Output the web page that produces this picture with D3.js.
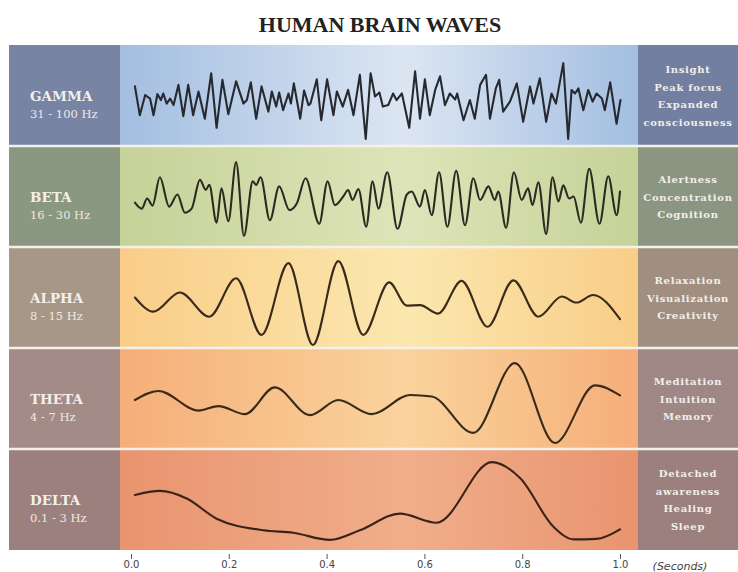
<!DOCTYPE html>
<html><head><meta charset="utf-8">
<script src="https://cdn.jsdelivr.net/npm/d3@7"></script>
<style>body{margin:0;background:#fff}svg{display:block}</style>
</head><body>
<svg id="c" width="738" height="572"></svg>
<script>
// ---- data ----
const title = "HUMAN BRAIN WAVES";
const bandNames = ["GAMMA","BETA","ALPHA","THETA","DELTA"];
const bandRanges = ["31 - 100 Hz","16 - 30 Hz","8 - 15 Hz","4 - 7 Hz","0.1 - 3 Hz"];
const bandStates = [
  ["Insight","Peak focus","Expanded","consciousness"],
  ["Alertness","Concentration","Cognition"],
  ["Relaxation","Visualization","Creativity"],
  ["Meditation","Intuition","Memory"],
  ["Detached","awareness","Healing","Sleep"]
];
const xTicks = [0.0,0.2,0.4,0.6,0.8,1.0];
const xUnit = "(Seconds)";

// time (s), amplitude pairs
const gammaT = [0.008,0.018,0.029,0.039,0.046,0.054,0.061,0.066,0.073,0.080,0.087,0.097,0.107,0.117,0.127,0.138,0.151,0.164,0.175,0.187,0.199,0.215,0.230,0.237,0.245,0.256,0.267,0.281,0.288,0.297,0.303,0.311,0.322,0.327,0.333,0.346,0.354,0.363,0.367,0.380,0.389,0.401,0.414,0.421,0.433,0.444,0.455,0.468,0.480,0.490,0.499,0.508,0.515,0.526,0.536,0.543,0.554,0.569,0.581,0.591,0.601,0.611,0.622,0.632,0.642,0.652,0.663,0.667,0.680,0.693,0.703,0.714,0.726,0.734,0.746,0.753,0.761,0.775,0.789,0.802,0.816,0.823,0.836,0.849,0.860,0.869,0.884,0.894,0.901,0.908,0.915,0.925,0.935,0.944,0.952,0.963,0.969,0.980,0.993,1.001];
const gammaV = [9,-19.5,0.5,-3,-19.5,1.5,-4.5,2,-8,-3,-9.5,10.5,-20.5,10.5,-19.5,4,-23,22,-32,15.5,-18.5,14,-8,-4.5,13,-23,9,-16,4,-11,3,-14.5,2,-8,12,-23,5,-9.5,-8,16,-24.5,16,-19.5,4,-11,5.5,-19.5,20.5,-43,22,-1,3,-11,-9.5,2,-4.5,2,-32,24,-23,16,-19.5,5.5,19,-9.5,2,-4,2,-24.5,-4.5,-23,10.5,20.5,-23,7,15.5,-16,-6,12,-26,9,-8,17,-26,2,-8,32,-43,5.5,2,7,-14.5,5.5,-6,2,-3,-14.5,13,-28,-4.5];

const betaT = [0.008,0.022,0.033,0.044,0.059,0.078,0.095,0.110,0.124,0.141,0.153,0.160,0.175,0.185,0.199,0.215,0.231,0.249,0.256,0.265,0.284,0.303,0.324,0.339,0.357,0.385,0.402,0.417,0.434,0.444,0.453,0.465,0.481,0.494,0.506,0.524,0.545,0.564,0.574,0.591,0.601,0.615,0.630,0.647,0.665,0.683,0.700,0.714,0.731,0.744,0.751,0.767,0.783,0.799,0.812,0.821,0.833,0.849,0.862,0.874,0.884,0.896,0.905,0.920,0.937,0.958,0.976,0.993,1.000];
const betaV = [-6,-12,-2,-9,19,-10,2,-16,-12,16.5,6.5,11.5,-26,8,-24.5,34,-39,15,11.5,19,-23.5,10,-13.5,-7,18,-27,15,-8.5,0,6.5,-3.5,7.5,-30,15,-12,24,-32,2,5,-10,6.5,-18.5,24,-30,25.5,-28.5,18,-3.5,10,-3.5,5,-31,24,-3.5,8,-8.5,14,-37,19,-5,11,-2,0,-26,27.5,-27,20,-18.5,5];

const alphaT = [0.008,0.046,0.100,0.160,0.215,0.267,0.322,0.372,0.424,0.475,0.528,0.564,0.591,0.628,0.676,0.729,0.782,0.833,0.881,0.911,0.945,1.000];
const alphaV = [0,-14,5,-19,19,-37,34,-47,36,-37,15,-8,-7.5,-16,16.5,-29,17,-19,1,-5,2.5,-21.5];

const thetaT = [0.008,0.056,0.138,0.179,0.233,0.294,0.366,0.424,0.492,0.571,0.615,0.700,0.785,0.867,0.949,1.000];
const thetaV = [-1.5,7.5,-12,-7.5,-15.5,11,-16.5,-1.5,-15.5,3.5,2,-34,35,-44,13,3];

const deltaT = [0.008,0.059,0.114,0.175,0.271,0.332,0.407,0.468,0.550,0.625,0.738,0.796,0.864,0.905,0.952,1.000];
const deltaV = [4.5,8.5,1,-19,-30.5,-33,-40,-30.5,-14,-23,37,21,-27,-39.5,-39,-29.5];

const seriesT = [gammaT, betaT, alphaT, thetaT, deltaT];
const seriesV = [gammaV, betaV, alphaV, thetaV, deltaV];

// ---- styling ----
const bgEdge   = ["#a3bee1","#c5d298","#f9cd88","#f5ae79","#e9946f"];
const bgCenter = ["#dce6f2","#dee4b9","#fbe7ae","#fad39c","#f0ae8b"];
const leftCol  = ["#7784a3","#8a9781","#a79787","#a38b87","#9c807e"];
const rightCol = ["#727fa0","#8b9682","#a08f81","#9e8784","#9b807d"];
const lineCol  = ["#262a30","#2a2c22","#3a2a1a","#3a2a1a","#3a2418"];
const curves = [d3.curveLinear, d3.curveMonotoneX, d3.curveMonotoneX, d3.curveMonotoneX, d3.curveMonotoneX];

const svg = d3.select("#c");
const plotL = 120, plotR = 638, leftL = 9, rightR = 738;
const band = d3.scaleBand().domain(bandNames).range([45, 550]).paddingInner(0);
const x = d3.scaleLinear().domain([0,1]).range([131, 620]);

const defs = svg.append("defs");
bandNames.forEach((n,i)=>{
  const g = defs.append("linearGradient").attr("id","g"+i).attr("x1","0").attr("x2","1").attr("y1","0").attr("y2","0");
  g.append("stop").attr("offset","0%").attr("stop-color",bgEdge[i]);
  g.append("stop").attr("offset","55%").attr("stop-color",bgCenter[i]);
  g.append("stop").attr("offset","100%").attr("stop-color",bgEdge[i]);
});

svg.append("text").attr("x",380).attr("y",32).attr("text-anchor","middle")
  .attr("font-family","'Liberation Serif','Times New Roman',serif").attr("font-weight","bold")
  .attr("font-size",22).attr("fill","#222").text(title);

const bands = svg.selectAll("g.band").data(bandNames).join("g").attr("class","band");
bands.append("rect").attr("x",leftL).attr("width",plotL-leftL)
  .attr("y",d=>band(d)).attr("height",band.bandwidth()).attr("fill",(d,i)=>leftCol[i]);
bands.append("rect").attr("x",plotL).attr("width",plotR-plotL)
  .attr("y",d=>band(d)).attr("height",band.bandwidth()).attr("fill",(d,i)=>"url(#g"+i+")");
bands.append("rect").attr("x",plotR).attr("width",rightR-plotR)
  .attr("y",d=>band(d)).attr("height",band.bandwidth()).attr("fill",(d,i)=>rightCol[i]);

// dividers
svg.selectAll("line.div").data(bandNames.slice(1)).join("line").attr("class","div")
  .attr("x1",leftL).attr("x2",rightR).attr("y1",d=>band(d)).attr("y2",d=>band(d))
  .attr("stroke","#f4f1ea").attr("stroke-width",2.5);

// waves
bandNames.forEach((n,i)=>{
  const y = d3.scaleLinear().domain([-50,50]).range([band(n)+band.bandwidth(), band(n)]);
  const pts = seriesT[i].map((t,j)=>[t, seriesV[i][j]]);
  const line = d3.line().x(d=>x(d[0])).y(d=>y(d[1])).curve(curves[i]);
  svg.append("path").attr("d",line(pts)).attr("fill","none")
    .attr("stroke",lineCol[i]).attr("stroke-width",2.1).attr("stroke-linejoin","round").attr("stroke-linecap","round");
});

// left labels
bands.append("text").attr("x",30).attr("y",d=>band(d)+band.bandwidth()/2+5)
  .attr("font-family","'DejaVu Serif',serif").attr("font-weight","bold").attr("font-size",13.5)
  .attr("fill","#f4efe9").text(d=>d);
bands.append("text").attr("x",30).attr("y",(d,i)=>band(d)+band.bandwidth()/2+22)
  .attr("font-family","'DejaVu Serif',serif").attr("font-size",11.5)
  .attr("fill","#efe9e4").text((d,i)=>bandRanges[i]);

// right labels
bands.each(function(d,i){
  const lines = bandStates[i];
  const cy = band(d)+band.bandwidth()/2;
  const step = 17.5;
  const y0 = cy - (lines.length-1)*step/2 + 4;
  d3.select(this).selectAll("text.st").data(lines).join("text").attr("class","st")
    .attr("x",688).attr("y",(s,k)=>y0+k*step).attr("text-anchor","middle")
    .attr("font-family","'DejaVu Serif',serif").attr("font-weight","bold").attr("font-size",10)
    .attr("letter-spacing",0.7).attr("fill","#f2eee9").text(s=>s);
});

// axis
const ax = svg.append("g").attr("transform","translate(0,554)")
  .call(d3.axisBottom(x).tickValues(xTicks).tickFormat(d3.format(".1f")).tickSize(5).tickPadding(2));
ax.select(".domain").remove();
ax.selectAll("line").attr("stroke","#555");
ax.selectAll("text").attr("font-family","'DejaVu Sans',sans-serif").attr("font-size",10).attr("fill","#444");
svg.append("text").attr("x",680).attr("y",570).attr("text-anchor","middle")
  .attr("font-family","'DejaVu Sans',sans-serif").attr("font-style","italic").attr("font-size",11)
  .attr("fill","#444").text(xUnit);
</script>
</body></html>
